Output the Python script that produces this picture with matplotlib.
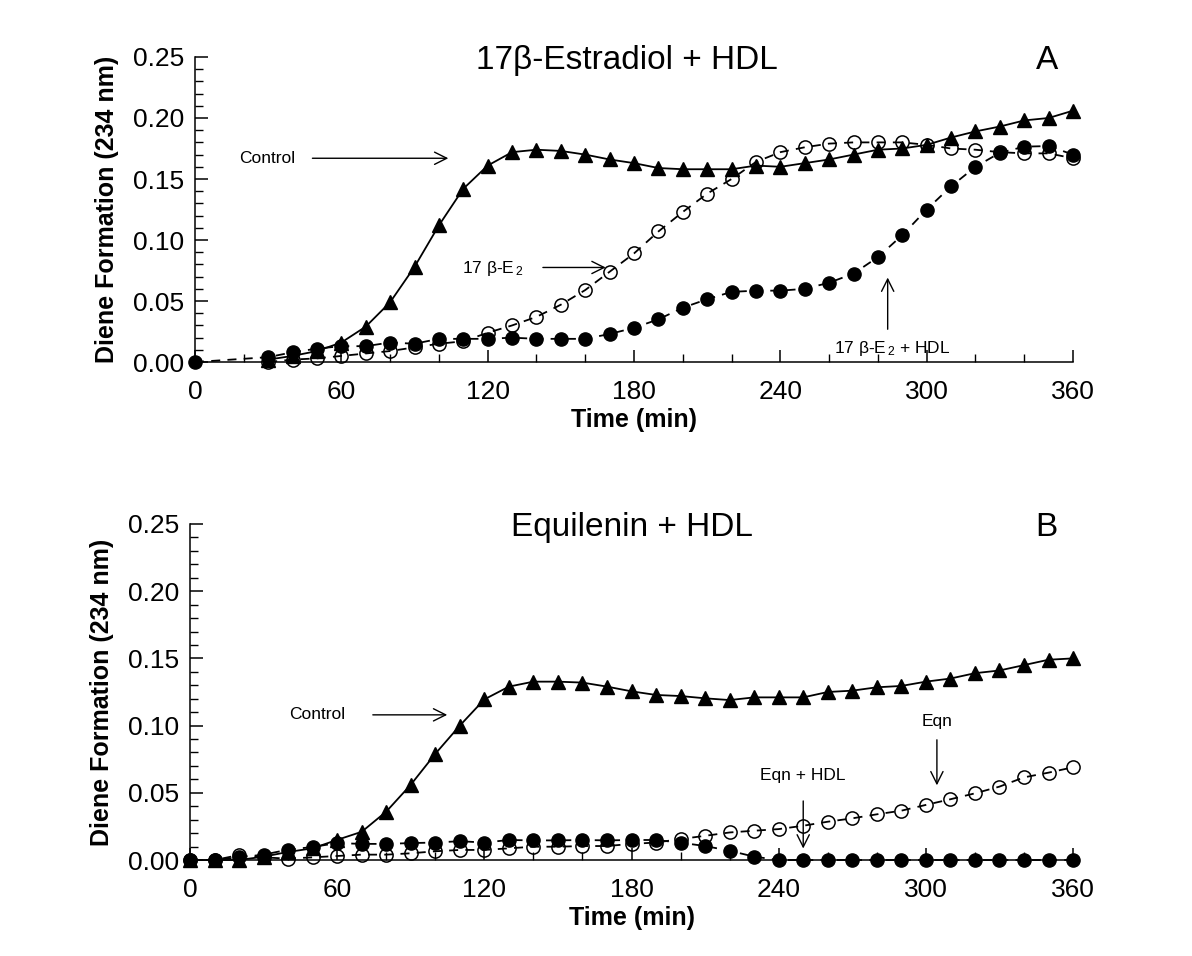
import matplotlib
matplotlib.use("Agg")
import matplotlib.pyplot as plt
from matplotlib.ticker import MultipleLocator, FormatStrFormatter

plt.rcParams['font.family'] = ['Liberation Sans', 'DejaVu Sans']
plt.rcParams['mathtext.fontset'] = 'custom'
plt.rcParams['mathtext.rm'] = 'Liberation Sans'
plt.rcParams['mathtext.it'] = 'Liberation Sans'

# ---------------- Panel A data ----------------
a_ctrl_t = [30, 40, 50, 60, 70, 80, 90, 100, 110, 120, 130, 140, 150, 160, 170, 180,
            190, 200, 210, 220, 230, 240, 250, 260, 270, 280, 290, 300, 310, 320, 330,
            340, 350, 360]
a_ctrl_v = [0.002, 0.005, 0.009, 0.016, 0.029, 0.049, 0.078, 0.112, 0.142, 0.161,
            0.172, 0.174, 0.173, 0.170, 0.166, 0.163, 0.159, 0.158, 0.158, 0.158,
            0.161, 0.160, 0.163, 0.166, 0.170, 0.174, 0.175, 0.178, 0.184, 0.189,
            0.193, 0.198, 0.200, 0.206]

a_e2_t = [30, 40, 50, 60, 70, 80, 90, 100, 110, 120, 130, 140, 150, 160, 170, 180,
          190, 200, 210, 220, 230, 240, 250, 260, 270, 280, 290, 300, 310, 320, 330,
          340, 350, 360]
a_e2_v = [0.000, 0.002, 0.003, 0.005, 0.007, 0.009, 0.012, 0.015, 0.017, 0.024,
          0.030, 0.037, 0.047, 0.059, 0.074, 0.089, 0.107, 0.123, 0.138, 0.150,
          0.164, 0.172, 0.176, 0.179, 0.180, 0.180, 0.180, 0.178, 0.175, 0.174,
          0.172, 0.171, 0.171, 0.167]

a_hdl_t = [0, 30, 40, 50, 60, 70, 80, 90, 100, 110, 120, 130, 140, 150, 160, 170, 180,
           190, 200, 210, 220, 230, 240, 250, 260, 270, 280, 290, 300, 310, 320, 330,
           340, 350, 360]
a_hdl_v = [0.000, 0.004, 0.008, 0.011, 0.013, 0.013, 0.016, 0.015, 0.019, 0.019,
           0.019, 0.020, 0.019, 0.019, 0.019, 0.023, 0.028, 0.035, 0.0445, 0.0515,
           0.0575, 0.0585, 0.0585, 0.060, 0.065, 0.0725, 0.086, 0.104, 0.125, 0.144,
           0.160, 0.1715, 0.1765, 0.177, 0.170]

# ---------------- Panel B data ----------------
b_ctrl_t = [0, 10, 20, 30, 40, 50, 60, 70, 80, 90, 100, 110, 120, 130, 140, 150, 160,
            170, 180, 190, 200, 210, 220, 230, 240, 250, 260, 270, 280, 290, 300, 310,
            320, 330, 340, 350, 360]
b_ctrl_v = [0.000, 0.000, 0.000, 0.0025, 0.006, 0.0087, 0.015, 0.021, 0.036, 0.056,
            0.079, 0.100, 0.1195, 0.129, 0.1327, 0.1327, 0.132, 0.129, 0.1255, 0.1228,
            0.122, 0.1203, 0.119, 0.121, 0.121, 0.121, 0.125, 0.126, 0.1285, 0.1295,
            0.1327, 0.135, 0.139, 0.141, 0.145, 0.149, 0.150]

b_eqn_t = [0, 10, 20, 30, 40, 50, 60, 70, 80, 90, 100, 110, 120, 130, 140, 150, 160,
           170, 180, 190, 200, 210, 220, 230, 240, 250, 260, 270, 280, 290, 300, 310,
           320, 330, 340, 350, 360]
b_eqn_v = [0.000, 0.000, 0.0037, 0.002, 0.001, 0.002, 0.003, 0.004, 0.004, 0.005,
           0.0065, 0.0075, 0.0075, 0.0087, 0.0099, 0.0099, 0.0104, 0.0104, 0.012,
           0.013, 0.0156, 0.018, 0.0205, 0.0218, 0.023, 0.0255, 0.0285, 0.031, 0.034,
           0.0367, 0.041, 0.0452, 0.0496, 0.0546, 0.0615, 0.065, 0.069]

b_hdl_t = [0, 10, 20, 30, 40, 50, 60, 70, 80, 90, 100, 110, 120, 130, 140, 150, 160,
           170, 180, 190, 200, 210, 220, 230, 240, 250, 260, 270, 280, 290, 300, 310,
           320, 330, 340, 350, 360]
b_hdl_v = [0.000, 0.000, 0.002, 0.004, 0.0077, 0.0097, 0.0126, 0.012, 0.012, 0.0126,
           0.013, 0.014, 0.013, 0.0149, 0.0146, 0.0146, 0.0149, 0.0146, 0.0149, 0.0149,
           0.0129, 0.0104, 0.0069, 0.0025, 0.000, 0.000, 0.000, 0.000, 0.000, 0.000,
           0.000, 0.000, 0.000, 0.000, 0.000, 0.000, 0.000]

x_ticks = [0, 60, 120, 180, 240, 300, 360]
y_ticks = [0.00, 0.05, 0.10, 0.15, 0.20, 0.25]

fig = plt.figure(figsize=(11.92, 9.56), dpi=100)
axA = fig.add_axes([0.1636, 0.6213, 0.7366, 0.3191])
axB = fig.add_axes([0.1594, 0.1004, 0.7408, 0.3515])

DASH = (0, (5, 4))


def style(ax):
    ax.set_xlim(0, 360)
    ax.set_ylim(0, 0.25)
    ax.set_xticks(x_ticks)
    ax.set_yticks(y_ticks)
    ax.xaxis.set_minor_locator(MultipleLocator(20))
    ax.yaxis.set_minor_locator(MultipleLocator(0.01))
    ax.yaxis.set_major_formatter(FormatStrFormatter('%.2f'))
    for s in ['top', 'right']:
        ax.spines[s].set_visible(False)
    for s in ['left', 'bottom']:
        ax.spines[s].set_linewidth(1.1)
    ax.tick_params(which='major', direction='in', length=9, width=1.1,
                   labelsize=19)
    ax.tick_params(which='minor', direction='in', length=6, width=1.0)
    ax.tick_params(axis='x', which='major', pad=13)
    ax.tick_params(axis='y', which='major', pad=8)
    ax.set_xlabel('Time (min)', fontsize=18, fontweight='bold', labelpad=3)
    ax.set_ylabel('Diene Formation (234 nm)', fontsize=18, fontweight='bold',
                  labelpad=10)


def plot_series(ax, ctrl_t, ctrl_v, open_t, open_v, fill_t, fill_v):
    ax.plot(ctrl_t, ctrl_v, color='black', lw=1.3, marker='^', ms=10.5,
            mfc='black', mec='black', clip_on=False, zorder=3)
    ax.plot(fill_t, fill_v, color='black', lw=1.3, ls=DASH, marker='o', ms=9.5,
            mfc='black', mec='black', clip_on=False, zorder=4)
    ax.plot(open_t, open_v, color='black', lw=1.3, ls=DASH, marker='o', ms=9.5,
            mfc='none', mec='black', mew=1.1, clip_on=False, zorder=5)


arrow = dict(arrowstyle='->', color='black', lw=1.0, mutation_scale=22)

# Panel A
style(axA)
plot_series(axA, a_ctrl_t, a_ctrl_v, a_e2_t, a_e2_v, a_hdl_t, a_hdl_v)
axA.text(0.492, 0.99, '17β-Estradiol + HDL', transform=axA.transAxes,
         ha='center', va='center', fontsize=24)
axA.text(0.97, 0.99, 'A', transform=axA.transAxes, ha='center', va='center',
         fontsize=24)
axA.text(29.5, 0.167, 'Control', ha='center', va='center', fontsize=12.5)
axA.annotate('', xy=(105, 0.167), xytext=(47, 0.167), arrowprops=arrow)
axA.text(122, 0.077, r'17 β-E$_{\,2}$', ha='center', va='center', fontsize=12.5)
axA.annotate('', xy=(169.5, 0.0775), xytext=(141.5, 0.0775), arrowprops=arrow)
axA.text(286, 0.0115, r'17 β-E$_{\,2}$ + HDL', ha='center', va='center', fontsize=12.5)
axA.annotate('', xy=(284, 0.0715), xytext=(284, 0.0246), arrowprops=arrow)

# Panel B
style(axB)
plot_series(axB, b_ctrl_t, b_ctrl_v, b_eqn_t, b_eqn_v, b_hdl_t, b_hdl_v)
axB.text(0.501, 0.99, 'Equilenin + HDL', transform=axB.transAxes,
         ha='center', va='center', fontsize=24)
axB.text(0.970, 0.99, 'B', transform=axB.transAxes, ha='center', va='center',
         fontsize=24)
axB.text(51.8, 0.108, 'Control', ha='center', va='center', fontsize=12.5)
axB.annotate('', xy=(106, 0.108), xytext=(73.4, 0.108), arrowprops=arrow)
axB.text(304.5, 0.1027, 'Eqn', ha='center', va='center', fontsize=12.5)
axB.annotate('', xy=(304.5, 0.0535), xytext=(304.5, 0.0915), arrowprops=arrow)
axB.text(250, 0.0632, 'Eqn + HDL', ha='center', va='center', fontsize=12.5)
axB.annotate('', xy=(250, 0.0065), xytext=(250, 0.046), arrowprops=arrow)

fig.savefig('out.png', dpi=100)
